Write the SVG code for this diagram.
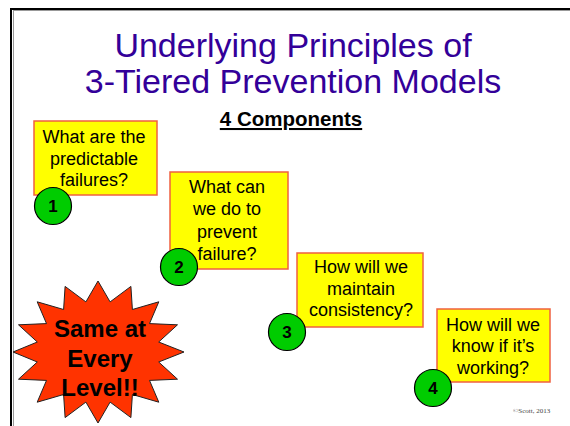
<svg xmlns="http://www.w3.org/2000/svg" width="570" height="426" viewBox="0 0 570 426">
  <style>
    .title { font-family: "Liberation Sans", Arial, sans-serif; font-size: 34px; fill: #330099; text-anchor: middle; }
    .sub { font-family: "Liberation Sans", Arial, sans-serif; font-size: 20.5px; font-weight: bold; fill: #000; text-anchor: middle; text-decoration: underline; }
    .box { fill: #FFFF00; stroke: #F06040; stroke-width: 1.5; }
    .q { font-family: "Liberation Sans", Arial, sans-serif; font-size: 18px; fill: #000; text-anchor: middle; }
    .dot { fill: #00CC00; stroke: #000; stroke-width: 1.2; }
    .num { font-family: "Liberation Sans", Arial, sans-serif; font-size: 17px; font-weight: bold; fill: #000; text-anchor: middle; }
    .star { fill: #FF3300; stroke: #222; stroke-width: 1; }
    .startext { font-family: "Liberation Sans", Arial, sans-serif; font-size: 24px; font-weight: bold; fill: #000; text-anchor: middle; }
    .credit { font-family: "Liberation Serif", "Times New Roman", serif; font-size: 7px; fill: #444; }
  </style>

  <rect width="570" height="426" fill="#fff"/>

  <!-- slide frame -->
  <g id="frame">
    <line x1="13" y1="10.5" x2="570" y2="10.5" stroke="#999" stroke-width="1"/>
    <line x1="13.5" y1="10" x2="13.5" y2="426" stroke="#999" stroke-width="1"/>
    <line x1="10" y1="9" x2="570" y2="9" stroke="#000" stroke-width="2"/>
    <line x1="11" y1="8" x2="11" y2="426" stroke="#000" stroke-width="2"/>
  </g>

  <!-- heading -->
  <g id="heading">
    <text class="title" x="293" y="57">Underlying Principles of</text>
    <text class="title" x="293" y="93">3-Tiered Prevention Models</text>
    <text class="sub" x="291" y="126">4 Components</text>
  </g>

  <!-- component 1 -->
  <g id="component1">
    <rect class="box" x="34" y="121" width="123" height="74"/>
    <text class="q" x="94" y="143">What are the</text>
    <text class="q" x="94" y="165">predictable</text>
    <text class="q" x="94" y="186">failures?</text>
    <circle class="dot" cx="53" cy="206" r="18.5"/>
    <text class="num" x="53" y="212">1</text>
  </g>

  <!-- component 2 -->
  <g id="component2">
    <rect class="box" x="170" y="172" width="118" height="97"/>
    <text class="q" x="227" y="193">What can</text>
    <text class="q" x="227" y="215">we do to</text>
    <text class="q" x="227" y="238">prevent</text>
    <text class="q" x="227" y="260">failure?</text>
    <circle class="dot" cx="179" cy="267" r="18.5"/>
    <text class="num" x="179" y="273">2</text>
  </g>

  <!-- component 3 -->
  <g id="component3">
    <rect class="box" x="297" y="253" width="126" height="74"/>
    <text class="q" x="361" y="273">How will we</text>
    <text class="q" x="361" y="295">maintain</text>
    <text class="q" x="361" y="316">consistency?</text>
    <circle class="dot" cx="287" cy="332" r="18.5"/>
    <text class="num" x="287" y="338">3</text>
  </g>

  <!-- component 4 -->
  <g id="component4">
    <rect class="box" x="437" y="309" width="113" height="73"/>
    <text class="q" x="493" y="331">How will we</text>
    <text class="q" x="493" y="352">know if it’s</text>
    <text class="q" x="493" y="374">working?</text>
    <circle class="dot" cx="433" cy="388" r="18.5"/>
    <text class="num" x="433" y="394">4</text>
  </g>

  <!-- 16-point burst -->
  <g id="burst">
    <polygon class="star" points="98,281 110.1,301.9 130.9,286.4 132.4,309.5 158.8,301.8 149.5,323.6 177.5,324.8 158.7,342 184,352 158.7,362 177.5,379.2 149.5,380.4 158.8,402.2 132.4,394.5 130.9,417.6 110.1,402.1 98,423 85.9,402.1 65.1,417.6 63.6,394.5 37.2,402.2 46.5,380.4 18.5,379.2 37.3,362 13,352 37.3,342 18.5,324.8 46.5,323.6 37.2,301.8 63.6,309.5 65.1,286.4 85.9,301.9"/>
    <text class="startext" x="100" y="337">Same at</text>
    <text class="startext" x="100" y="367">Every</text>
    <text class="startext" x="100" y="396">Level!!</text>
  </g>

  <g id="connectors"/>

  <text class="credit" x="513" y="413">©Scott, 2013</text>
</svg>
